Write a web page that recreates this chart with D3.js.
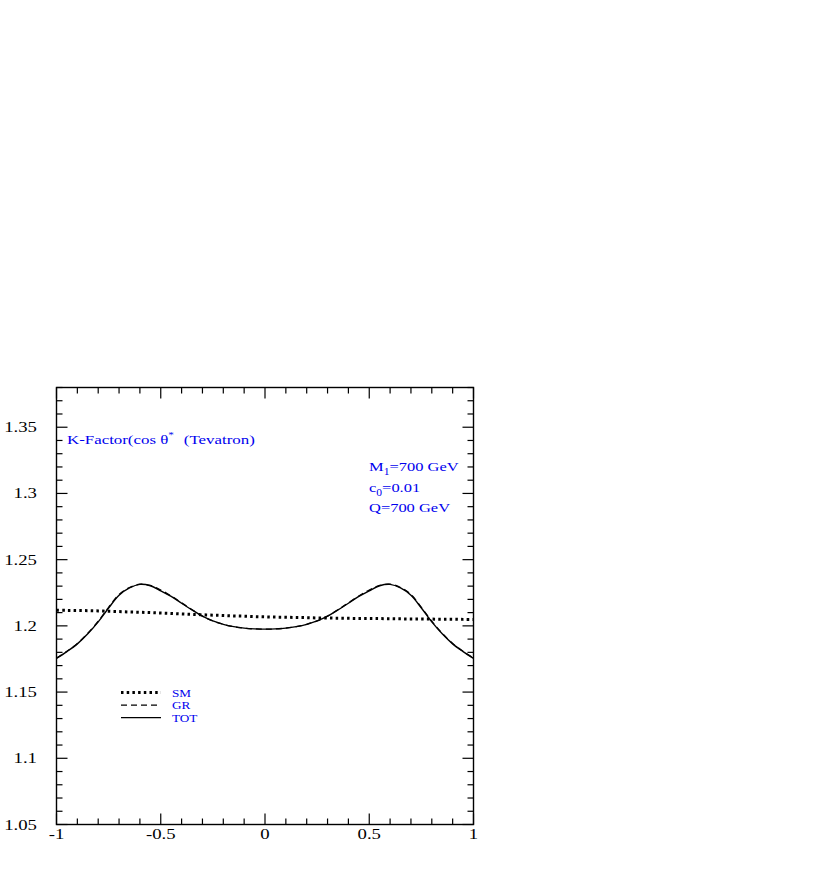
<!DOCTYPE html>
<html><head><meta charset="utf-8">
<script src="https://cdn.jsdelivr.net/npm/d3@7"></script>
<style>body{margin:0;background:#fff}svg{display:block}text{font-family:"Liberation Serif","Times New Roman",serif}</style>
</head><body>
<script>
const xCos = [-1,-0.95,-0.9,-0.85,-0.8,-0.75,-0.7,-0.65,-0.6,-0.55,-0.5,-0.45,-0.4,-0.35,-0.3,-0.25,-0.2,-0.15,-0.1,-0.05,0,0.05,0.1,0.15,0.2,0.25,0.3,0.35,0.4,0.45,0.5,0.55,0.6,0.65,0.7,0.75,0.8,0.85,0.9,0.95,1];
const smK = [1.2118,1.2117,1.2116,1.2115,1.2113,1.2110,1.2108,1.2105,1.2103,1.2100,1.2097,1.2094,1.2090,1.2087,1.2084,1.2081,1.2078,1.2075,1.2073,1.2070,1.2068,1.2066,1.2065,1.2063,1.2062,1.2060,1.2059,1.2058,1.2057,1.2056,1.2056,1.2055,1.2054,1.2053,1.2052,1.2052,1.2051,1.2050,1.2050,1.2049,1.2049];
const grK = [1.1757,1.1808,1.1867,1.1944,1.2035,1.2140,1.2237,1.2290,1.2315,1.2305,1.2271,1.2226,1.2174,1.2122,1.2073,1.2037,1.2012,1.1994,1.1983,1.1977,1.1975,1.1977,1.1983,1.1994,1.2012,1.2037,1.2073,1.2122,1.2174,1.2226,1.2271,1.2305,1.2315,1.2290,1.2237,1.2140,1.2035,1.1944,1.1867,1.1808,1.1757];
const totK = [1.1755,1.1806,1.1864,1.1940,1.2030,1.2135,1.2231,1.2286,1.2313,1.2303,1.2265,1.2222,1.2171,1.2121,1.2073,1.2037,1.2011,1.1994,1.1983,1.1977,1.1975,1.1977,1.1983,1.1994,1.2011,1.2037,1.2073,1.2121,1.2171,1.2222,1.2265,1.2303,1.2313,1.2286,1.2231,1.2135,1.2030,1.1940,1.1864,1.1806,1.1755];
const xTicks = [-1,-0.5,0,0.5,1];
const xTickLabels = ["-1","-0.5","0","0.5","1"];
const yTicks = [1.05,1.1,1.15,1.2,1.25,1.3,1.35];
const yTickLabels = ["1.05","1.1","1.15","1.2","1.25","1.3","1.35"];
const legendNames = ["SM","GR","TOT"];
const paramLines = ["M|1|=700 GeV","c|0|=0.01","Q=700 GeV"];

const W=817,H=872;
const svg=d3.select("body").append("svg").attr("width",W).attr("height",H);
const L=56.5,R=473.5,T=387.5,B=824.5;
const x=d3.scaleLinear().domain([-1,1]).range([L,R]);
const y=d3.scaleLinear().domain([1.05,1.38]).range([B,T]);

function stext(px,py,sx){
  return svg.append("g").attr("transform",`translate(${px},${py}) scale(${sx},1)`).append("text").attr("x",0).attr("y",0);
}

// minor ticks
const xMinor=d3.range(-10,11).map(i=>i/10);
const yMinor=d3.range(105,139).map(i=>i/100);
const g=svg.append("g").attr("stroke","#000").attr("stroke-width",1.2);
xMinor.forEach(v=>{
  const maj=xTicks.some(t=>Math.abs(t-v)<1e-9);
  const len=maj?11:6;
  g.append("line").attr("x1",x(v)).attr("x2",x(v)).attr("y1",B).attr("y2",B-len);
  g.append("line").attr("x1",x(v)).attr("x2",x(v)).attr("y1",T).attr("y2",T+len);
});
yMinor.forEach(v=>{
  const maj=yTicks.some(t=>Math.abs(t-v)<1e-9);
  const len=maj?11:6;
  g.append("line").attr("y1",y(v)).attr("y2",y(v)).attr("x1",L).attr("x2",L+len);
  g.append("line").attr("y1",y(v)).attr("y2",y(v)).attr("x1",R).attr("x2",R-len);
});
svg.append("rect").attr("x",L).attr("y",T).attr("width",R-L).attr("height",B-T)
  .attr("fill","none").attr("stroke","#000").attr("stroke-width",1.4);

// tick labels
xTicks.forEach((d,i)=>{
  stext(x(d),B+14,1.25).attr("text-anchor","middle").attr("font-size",15).text(xTickLabels[i]);
});
yTicks.forEach((d,i)=>{
  stext(37,y(d)+5,1.25).attr("text-anchor","end").attr("font-size",15).text(yTickLabels[i]);
});

const line=d3.line().x((d,i)=>x(xCos[i])).y(d=>y(d)).curve(d3.curveCatmullRom);
svg.append("path").attr("d",line(smK)).attr("fill","none").attr("stroke","#000")
  .attr("stroke-width",3).attr("stroke-dasharray","2.5,3.2");
svg.append("path").attr("d",line(grK)).attr("fill","none").attr("stroke","#000")
  .attr("stroke-width",1.3).attr("stroke-dasharray","6,4");
svg.append("path").attr("d",line(totK)).attr("fill","none").attr("stroke","#000")
  .attr("stroke-width",1.4);

// title
const tt=stext(67,444,1.25).attr("font-size",13.5).attr("fill","#0000ee");
tt.append("tspan").text("K-Factor(cos θ");
tt.append("tspan").attr("dy",-6).attr("font-size",9).text("*");
tt.append("tspan").attr("dy",6).attr("dx",8).text("(Tevatron)");

// params
paramLines.forEach((s,i)=>{
  const parts=s.split("|");
  const t=stext(369,471+i*20.5,1.22).attr("font-size",13.5).attr("fill","#0000ee");
  if(parts.length===3){
    t.append("tspan").text(parts[0]);
    t.append("tspan").attr("dy",4).attr("font-size",9.5).text(parts[1]);
    t.append("tspan").attr("dy",-4).text(parts[2]);
  } else t.text(s);
});

// legend
const legStyles=[{w:3,d:"2.5,3.2"},{w:1.3,d:"6,4"},{w:1.3,d:null}];
legendNames.forEach((n,i)=>{
  const base=696.5+i*12.6;
  const yy=base-4;
  const l=svg.append("line").attr("x1",121).attr("x2",161).attr("y1",yy).attr("y2",yy)
    .attr("stroke","#000").attr("stroke-width",legStyles[i].w);
  if(legStyles[i].d) l.attr("stroke-dasharray",legStyles[i].d);
  stext(172,base,1.2).attr("font-size",11).attr("fill","#0000ee").text(n);
});
</script>
</body></html>
